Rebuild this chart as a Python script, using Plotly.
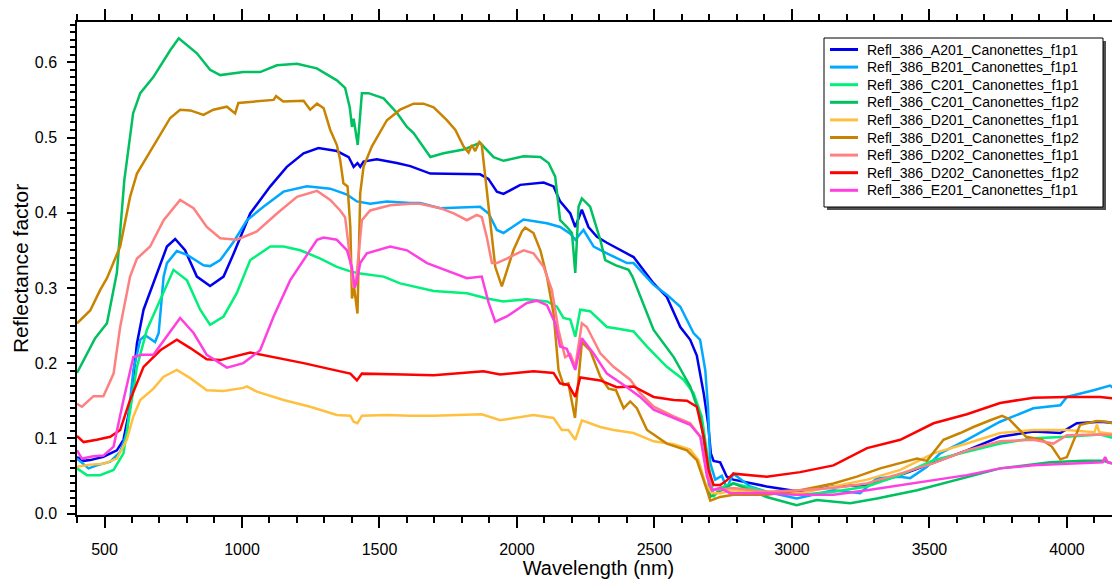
import plotly.graph_objects as go

# Reflectance spectra (wavelength in nm, reflectance factor)
a201_f1p1_wl = [400, 424, 448, 496, 545, 569, 593, 618, 642, 678, 727, 757, 793, 836, 884, 933, 969, 1030, 1103, 1163,
                1224, 1278, 1345, 1388, 1406, 1420, 1430, 1442, 1490, 1563, 1612, 1685, 1757, 1866, 1896, 1927, 1951,
                2012, 2097, 2133, 2157, 2194, 2212, 2236, 2260, 2291, 2327, 2376, 2424, 2497, 2545, 2594, 2630, 2654,
                2679, 2695, 2705, 2715, 2739, 2763, 2787, 2908, 3030, 3151, 3273, 3394, 3515, 3636, 3757, 3878, 3976,
                4036, 4121, 4194]
a201_f1p1_r = [0.075, 0.07, 0.071, 0.0755, 0.084, 0.098, 0.142, 0.226, 0.271, 0.306, 0.355, 0.365, 0.35, 0.315, 0.3025,
               0.315, 0.345, 0.399, 0.435, 0.461, 0.479, 0.486, 0.482, 0.474, 0.461, 0.466, 0.461, 0.468, 0.471, 0.466,
               0.462, 0.452, 0.452, 0.451, 0.445, 0.428, 0.425, 0.437, 0.44, 0.435, 0.415, 0.399, 0.381, 0.404, 0.381,
               0.368, 0.36, 0.35, 0.341, 0.306, 0.288, 0.248, 0.231, 0.21, 0.16, 0.12, 0.08, 0.07, 0.068, 0.049, 0.045,
               0.036, 0.029, 0.036, 0.038, 0.051, 0.067, 0.084, 0.102, 0.109, 0.107, 0.12, 0.122, 0.12]

b201_f1p1_wl = [400, 442, 472, 521, 557, 581, 605, 630, 648, 684, 697, 715, 727, 763, 800, 860, 884, 921, 969, 1018,
                1078, 1151, 1236, 1321, 1382, 1418, 1466, 1527, 1612, 1648, 1721, 1866, 1897, 1927, 1951, 2024, 2109,
                2157, 2194, 2212, 2242, 2279, 2327, 2400, 2424, 2497, 2545, 2594, 2642, 2666, 2685, 2695, 2703, 2721,
                2745, 2763, 2787, 2848, 2908, 3017, 3151, 3248, 3309, 3394, 3430, 3491, 3539, 3636, 3757, 3878, 3976,
                4000, 4097, 4157, 4194]
b201_f1p1_r = [0.073, 0.06, 0.064, 0.069, 0.082, 0.107, 0.191, 0.231, 0.237, 0.228, 0.24, 0.315, 0.333, 0.349, 0.344,
               0.33, 0.329, 0.337, 0.361, 0.39, 0.408, 0.428, 0.435, 0.432, 0.424, 0.415, 0.412, 0.415, 0.413, 0.413,
               0.406, 0.408, 0.399, 0.377, 0.373, 0.391, 0.386, 0.381, 0.372, 0.364, 0.377, 0.355, 0.346, 0.333, 0.333,
               0.304, 0.291, 0.275, 0.24, 0.231, 0.19, 0.14, 0.067, 0.045, 0.05, 0.034, 0.053, 0.036, 0.029, 0.02,
               0.031, 0.027, 0.047, 0.049, 0.047, 0.062, 0.08, 0.098, 0.122, 0.14, 0.144, 0.155, 0.164, 0.17, 0.161]

c201_f1p1_wl = [400, 436, 484, 533, 569, 593, 618, 654, 703, 751, 800, 848, 884, 933, 981, 1030, 1103, 1151, 1212, 1285,
                1345, 1394, 1430, 1515, 1575, 1697, 1818, 1891, 1951, 2036, 2109, 2145, 2169, 2194, 2212, 2230, 2266,
                2327, 2363, 2400, 2424, 2473, 2545, 2606, 2642, 2672, 2697, 2715, 2739, 2787, 2908, 3030, 3151, 3273,
                3394, 3515, 3636, 3757, 3878, 4000, 4121, 4194]
c201_f1p1_r = [0.06, 0.051, 0.051, 0.058, 0.08, 0.138, 0.195, 0.244, 0.284, 0.324, 0.31, 0.271, 0.251, 0.262, 0.293,
               0.337, 0.355, 0.355, 0.35, 0.339, 0.328, 0.322, 0.319, 0.315, 0.306, 0.296, 0.293, 0.286, 0.282, 0.285,
               0.282, 0.275, 0.26, 0.258, 0.235, 0.271, 0.269, 0.248, 0.246, 0.244, 0.242, 0.222, 0.195, 0.178, 0.16,
               0.129, 0.067, 0.022, 0.034, 0.04, 0.029, 0.025, 0.029, 0.036, 0.051, 0.071, 0.082, 0.093, 0.1, 0.102,
               0.105, 0.098]

c201_f1p2_wl = [400, 466, 509, 545, 572, 604, 630, 677, 739, 770, 836, 884, 921, 1005, 1066, 1127, 1200, 1272, 1345, 1375,
                1392, 1400, 1406, 1421, 1436, 1460, 1515, 1563, 1600, 1624, 1685, 1733, 1806, 1842, 1866, 1915, 1951,
                2024, 2085, 2115, 2139, 2157, 2182, 2200, 2212, 2224, 2236, 2266, 2303, 2321, 2360, 2406, 2420, 2497,
                2570, 2630, 2667, 2691, 2702, 2787, 2908, 3017, 3090, 3212, 3309, 3455, 3636, 3757, 3939, 4060, 4132,
                4194]
c201_f1p2_r = [0.187, 0.233, 0.253, 0.32, 0.443, 0.532, 0.559, 0.58, 0.616, 0.632, 0.612, 0.59, 0.583, 0.587, 0.587,
               0.596, 0.598, 0.592, 0.576, 0.566, 0.54, 0.514, 0.525, 0.49, 0.559, 0.559, 0.552, 0.533, 0.514, 0.506,
               0.474, 0.479, 0.484, 0.489, 0.493, 0.474, 0.469, 0.475, 0.474, 0.466, 0.448, 0.39, 0.381, 0.373, 0.32,
               0.408, 0.419, 0.408, 0.364, 0.337, 0.33, 0.324, 0.315, 0.244, 0.208, 0.169, 0.129, 0.067, 0.022, 0.04,
               0.022, 0.011, 0.018, 0.0136, 0.02, 0.031, 0.049, 0.06, 0.068, 0.07, 0.07, 0.064]

d201_f1p1_wl = [400, 448, 496, 545, 581, 605, 630, 678, 715, 763, 812, 872, 933, 1005, 1018, 1054, 1151, 1248, 1345, 1394,
                1406, 1420, 1436, 1527, 1612, 1697, 1872, 1939, 2060, 2133, 2163, 2187, 2212, 2236, 2303, 2351, 2424,
                2497, 2570, 2630, 2660, 2685, 2709, 2739, 2787, 2908, 3030, 3151, 3273, 3394, 3515, 3636, 3757, 3878,
                4000, 4100, 4109, 4118, 4194]
d201_f1p1_r = [0.062, 0.065, 0.066, 0.073, 0.098, 0.129, 0.151, 0.166, 0.182, 0.191, 0.18, 0.164, 0.163, 0.167, 0.169,
               0.162, 0.151, 0.142, 0.131, 0.13, 0.122, 0.12, 0.13, 0.131, 0.13, 0.13, 0.132, 0.124, 0.131, 0.127, 0.111,
               0.111, 0.098, 0.124, 0.115, 0.111, 0.107, 0.096, 0.092, 0.085, 0.071, 0.04, 0.027, 0.027, 0.031, 0.027,
               0.027, 0.036, 0.045, 0.058, 0.08, 0.093, 0.107, 0.111, 0.111, 0.108, 0.118, 0.108, 0.105]

d201_f1p2_wl = [400, 448, 484, 509, 557, 593, 618, 678, 739, 775, 812, 860, 896, 945, 975, 987, 1054, 1115, 1124, 1150,
                1224, 1248, 1273, 1297, 1321, 1345, 1357, 1369, 1384, 1394, 1400, 1408, 1420, 1430, 1442, 1472, 1527,
                1575, 1624, 1660, 1697, 1745, 1776, 1806, 1824, 1836, 1848, 1863, 1872, 1884, 1903, 1921, 1945, 1963,
                1987, 2018, 2030, 2060, 2085, 2109, 2133, 2151, 2169, 2187, 2211, 2236, 2266, 2303, 2333, 2360, 2388,
                2412, 2436, 2473, 2545, 2618, 2654, 2691, 2703, 2739, 2787, 2908, 3030, 3151, 3236, 3321, 3394, 3455,
                3491, 3551, 3612, 3660, 3721, 3764, 3788, 3852, 3909, 3945, 3976, 4000, 4048, 4109, 4145, 4182, 4194]
d201_f1p2_r = [0.253, 0.27, 0.297, 0.313, 0.355, 0.421, 0.452, 0.488, 0.526, 0.537, 0.536, 0.53, 0.537, 0.541, 0.532,
               0.546, 0.548, 0.55, 0.555, 0.548, 0.549, 0.537, 0.545, 0.539, 0.51, 0.49, 0.47, 0.439, 0.435, 0.381,
               0.286, 0.3, 0.266, 0.426, 0.461, 0.488, 0.523, 0.537, 0.545, 0.545, 0.54, 0.523, 0.51, 0.488, 0.48, 0.49,
               0.482, 0.494, 0.49, 0.452, 0.39, 0.328, 0.302, 0.324, 0.35, 0.375, 0.38, 0.373, 0.35, 0.315, 0.266,
               0.191, 0.171, 0.173, 0.127, 0.228, 0.217, 0.182, 0.166, 0.164, 0.14, 0.149, 0.14, 0.111, 0.093, 0.084,
               0.071, 0.031, 0.017, 0.022, 0.025, 0.025, 0.031, 0.04, 0.049, 0.06, 0.067, 0.073, 0.07, 0.098, 0.107,
               0.115, 0.124, 0.13, 0.126, 0.102, 0.098, 0.089, 0.072, 0.075, 0.118, 0.123, 0.122, 0.118, 0.11]

d202_f1p1_wl = [400, 418, 460, 496, 533, 557, 593, 618, 666, 715, 775, 824, 872, 921, 981, 1054, 1127, 1200, 1273, 1321,
                1357, 1375, 1394, 1405, 1415, 1436, 1466, 1539, 1612, 1648, 1721, 1770, 1818, 1854, 1872, 1890, 1909,
                1927, 1963, 2024, 2060, 2097, 2127, 2151, 2175, 2194, 2212, 2236, 2254, 2303, 2351, 2412, 2448, 2497,
                2570, 2630, 2667, 2691, 2709, 2787, 2908, 3030, 3151, 3273, 3394, 3515, 3636, 3757, 3878, 3951, 4000,
                4121, 4194]
d202_f1p1_r = [0.146, 0.142, 0.156, 0.156, 0.186, 0.248, 0.315, 0.339, 0.355, 0.39, 0.417, 0.406, 0.381, 0.366, 0.364,
               0.375, 0.399, 0.421, 0.429, 0.417, 0.403, 0.394, 0.337, 0.3, 0.31, 0.39, 0.403, 0.41, 0.412, 0.412,
               0.406, 0.399, 0.39, 0.397, 0.394, 0.368, 0.333, 0.333, 0.339, 0.35, 0.346, 0.328, 0.297, 0.244, 0.208,
               0.212, 0.195, 0.253, 0.248, 0.213, 0.195, 0.178, 0.16, 0.142, 0.129, 0.12, 0.102, 0.058, 0.031, 0.034,
               0.029, 0.031, 0.034, 0.04, 0.053, 0.067, 0.084, 0.096, 0.098, 0.093, 0.104, 0.105, 0.104]

d202_f1p2_wl = [400, 424, 472, 521, 557, 593, 642, 703, 763, 812, 872, 921, 1030, 1103, 1224, 1345, 1394, 1418, 1436,
                1587, 1697, 1878, 1939, 2060, 2133, 2157, 2187, 2212, 2230, 2303, 2363, 2424, 2497, 2570, 2618, 2654,
                2679, 2697, 2715, 2739, 2763, 2787, 2908, 3030, 3151, 3273, 3394, 3515, 3636, 3757, 3878, 4000, 4121,
                4170, 4194]
d202_f1p2_r = [0.103, 0.095, 0.098, 0.102, 0.111, 0.151, 0.195, 0.217, 0.231, 0.22, 0.205, 0.204, 0.214, 0.209, 0.2,
               0.19, 0.186, 0.177, 0.186, 0.185, 0.184, 0.189, 0.185, 0.189, 0.187, 0.173, 0.171, 0.155, 0.181, 0.177,
               0.168, 0.169, 0.155, 0.151, 0.15, 0.142, 0.102, 0.058, 0.038, 0.038, 0.044, 0.053, 0.049, 0.055, 0.064,
               0.087, 0.098, 0.12, 0.132, 0.147, 0.154, 0.155, 0.155, 0.153, 0.142]

e201_f1p1_wl = [400, 418, 460, 496, 533, 569, 605, 636, 678, 727, 775, 824, 872, 945, 1005, 1066, 1115, 1175, 1224, 1273,
                1297, 1345, 1382, 1400, 1410, 1418, 1430, 1454, 1539, 1600, 1673, 1757, 1818, 1872, 1897, 1921, 1963,
                2036, 2072, 2109, 2139, 2157, 2181, 2212, 2236, 2278, 2327, 2400, 2448, 2497, 2570, 2630, 2667, 2691,
                2709, 2739, 2775, 2908, 3017, 3151, 3273, 3394, 3515, 3636, 3757, 3878, 4000, 4130, 4139, 4148, 4194]
e201_f1p1_r = [0.084, 0.073, 0.076, 0.077, 0.089, 0.151, 0.208, 0.211, 0.211, 0.235, 0.26, 0.24, 0.211, 0.194, 0.2,
               0.217, 0.262, 0.31, 0.337, 0.364, 0.367, 0.364, 0.35, 0.327, 0.3, 0.31, 0.333, 0.346, 0.355, 0.35, 0.333,
               0.322, 0.313, 0.315, 0.28, 0.255, 0.262, 0.28, 0.283, 0.277, 0.253, 0.222, 0.219, 0.191, 0.233, 0.213,
               0.186, 0.168, 0.155, 0.138, 0.127, 0.118, 0.102, 0.049, 0.031, 0.034, 0.027, 0.027, 0.025, 0.025, 0.031,
               0.038, 0.045, 0.051, 0.06, 0.064, 0.066, 0.068, 0.075, 0.068, 0.064]

series_names = ["Refl_386_A201_Canonettes_f1p1", "Refl_386_B201_Canonettes_f1p1", "Refl_386_C201_Canonettes_f1p1",
                "Refl_386_C201_Canonettes_f1p2", "Refl_386_D201_Canonettes_f1p1", "Refl_386_D201_Canonettes_f1p2",
                "Refl_386_D202_Canonettes_f1p1", "Refl_386_D202_Canonettes_f1p2", "Refl_386_E201_Canonettes_f1p1"]
series_wl = [a201_f1p1_wl, b201_f1p1_wl, c201_f1p1_wl, c201_f1p2_wl, d201_f1p1_wl, d201_f1p2_wl,
             d202_f1p1_wl, d202_f1p2_wl, e201_f1p1_wl]
series_r = [a201_f1p1_r, b201_f1p1_r, c201_f1p1_r, c201_f1p2_r, d201_f1p1_r, d201_f1p2_r,
            d202_f1p1_r, d202_f1p2_r, e201_f1p1_r]
colors = ["#0000EE", "#00A8FF", "#00F07A", "#00C060", "#FFC040", "#C88400", "#FF8080", "#FF0000", "#FF40E0"]

# the page body keeps its default 8px margin, so the figure is 8px smaller than the window
PAGE_OFF = 8
W, H = 1120 - PAGE_OFF, 579 - PAGE_OFF
L, R, T, B = 77 - PAGE_OFF, 0, 22 - PAGE_OFF, 64
font = "Arial, Liberation Sans, sans-serif"


def px(x):
    # window pixel -> paper fraction
    return (x - PAGE_OFF - L) / (W - L - R)


def py(y):
    return (H - B - (y - PAGE_OFF)) / (H - T - B)


fig = go.Figure()
for name, wl, r, color in zip(series_names, series_wl, series_r, colors):
    fig.add_trace(go.Scatter(x=wl, y=r, mode="lines", name=name, showlegend=False,
                             line=dict(color=color, width=2.5)))

# legend drawn by hand so row spacing matches the original
shapes = [
    dict(type="rect", xref="paper", yref="paper", x0=px(827), x1=px(1106), y0=py(210), y1=py(41),
         fillcolor="#505050", line=dict(width=0), layer="above"),
    dict(type="rect", xref="paper", yref="paper", x0=px(824), x1=px(1103), y0=py(207), y1=py(38),
         fillcolor="white", line=dict(color="black", width=1), layer="above"),
]
annotations = []
for i, (name, color) in enumerate(zip(series_names, colors)):
    yrow = 49.5 + 17.6 * i
    shapes.append(dict(type="line", xref="paper", yref="paper", x0=px(830), x1=px(858), y0=py(yrow), y1=py(yrow),
                       line=dict(color=color, width=3), layer="above"))
    annotations.append(dict(xref="paper", yref="paper", x=px(865), y=py(yrow), text=name, showarrow=False,
                            xanchor="left", yanchor="middle", font=dict(family=font, size=14, color="black")))

fig.update_layout(
    width=W, height=H,
    margin=dict(l=L, r=R, t=T, b=B, autoexpand=False),
    paper_bgcolor="white", plot_bgcolor="white",
    font=dict(family=font, size=16, color="black"),
    showlegend=False,
    shapes=shapes,
    annotations=annotations,
    xaxis=dict(
        range=[400, 4193], showgrid=False, zeroline=False, automargin=False,
        showline=True, linecolor="black", linewidth=1.5, mirror="ticks",
        ticks="outside", ticklen=11, tickwidth=1.5, tickcolor="black",
        dtick=500, tick0=0, ticklabelstandoff=8,
        minor=dict(dtick=100, tick0=0, ticks="outside", ticklen=6, tickwidth=1.5, tickcolor="black"),
        title=dict(text="Wavelength (nm)", font=dict(size=20), standoff=2),
    ),
    yaxis=dict(
        range=[-0.002, 0.6536], showgrid=False, zeroline=False, automargin=False,
        showline=True, linecolor="black", linewidth=1.5,
        ticks="outside", ticklen=8, tickwidth=1.5, tickcolor="black",
        dtick=0.1, tick0=0, tickformat=".1f", ticklabelstandoff=7,
        minor=dict(dtick=0.01, tick0=0, ticks="outside", ticklen=5, tickwidth=1.5, tickcolor="black"),
        title=dict(text="Reflectance factor", font=dict(size=21), standoff=0),
    ),
)

fig.write_html("out.html")
